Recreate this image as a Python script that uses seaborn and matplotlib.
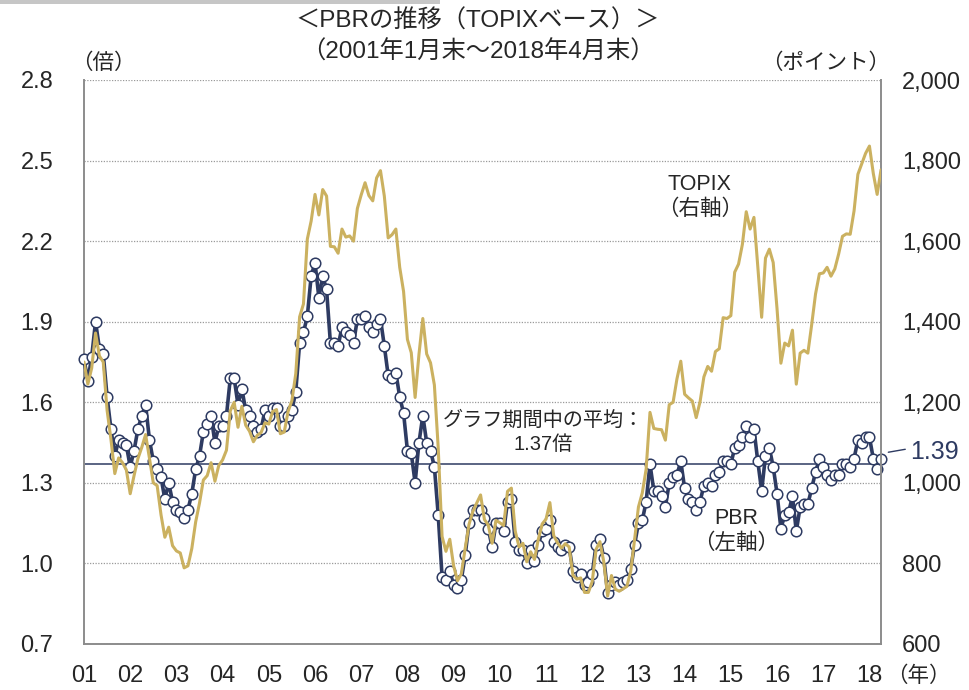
import numpy as np
import pandas as pd
import matplotlib
matplotlib.use("Agg")
import matplotlib.pyplot as plt
from matplotlib.ticker import FormatStrFormatter, FuncFormatter
import seaborn as sns

# PBR (倍), month-end, 2001/01 - 2018/04
pbr_2001 = [1.76, 1.68, 1.77, 1.90, 1.80, 1.78, 1.62, 1.50, 1.40, 1.46, 1.45, 1.44]
pbr_2002 = [1.36, 1.42, 1.50, 1.55, 1.59, 1.46, 1.38, 1.35, 1.32, 1.24, 1.30, 1.23]
pbr_2003 = [1.20, 1.19, 1.17, 1.20, 1.26, 1.35, 1.40, 1.49, 1.52, 1.55, 1.45, 1.51]
pbr_2004 = [1.51, 1.55, 1.69, 1.69, 1.59, 1.65, 1.57, 1.55, 1.51, 1.49, 1.50, 1.57]
pbr_2005 = [1.55, 1.58, 1.58, 1.51, 1.51, 1.55, 1.57, 1.64, 1.82, 1.86, 1.92, 2.07]
pbr_2006 = [2.12, 1.99, 2.07, 2.02, 1.82, 1.82, 1.81, 1.88, 1.86, 1.85, 1.82, 1.91]
pbr_2007 = [1.91, 1.92, 1.88, 1.86, 1.89, 1.91, 1.81, 1.70, 1.69, 1.71, 1.62, 1.56]
pbr_2008 = [1.42, 1.41, 1.30, 1.45, 1.55, 1.45, 1.42, 1.36, 1.18, 0.95, 0.94, 0.97]
pbr_2009 = [0.92, 0.91, 0.94, 1.03, 1.15, 1.20, 1.20, 1.20, 1.17, 1.13, 1.06, 1.15]
pbr_2010 = [1.15, 1.12, 1.23, 1.24, 1.08, 1.05, 1.05, 1.00, 1.05, 1.01, 1.07, 1.12]
pbr_2011 = [1.13, 1.16, 1.08, 1.06, 1.05, 1.07, 1.06, 0.97, 0.95, 0.96, 0.92, 0.93]
pbr_2012 = [0.96, 1.07, 1.09, 1.02, 0.89, 0.92, 0.93, 0.92, 0.93, 0.94, 0.98, 1.07]
pbr_2013 = [1.15, 1.16, 1.23, 1.37, 1.27, 1.27, 1.25, 1.21, 1.30, 1.32, 1.33, 1.38]
pbr_2014 = [1.28, 1.24, 1.23, 1.20, 1.23, 1.29, 1.30, 1.29, 1.33, 1.34, 1.38, 1.38]
pbr_2015 = [1.37, 1.43, 1.44, 1.47, 1.51, 1.47, 1.50, 1.38, 1.27, 1.40, 1.43, 1.36]
pbr_2016 = [1.26, 1.13, 1.18, 1.19, 1.25, 1.12, 1.21, 1.22, 1.22, 1.28, 1.34, 1.39]
pbr_2017 = [1.36, 1.33, 1.31, 1.33, 1.33, 1.37, 1.37, 1.36, 1.39, 1.46, 1.45, 1.47]
pbr_2018 = [1.47, 1.39, 1.35, 1.39]

# TOPIX (ポイント), month-end
topix_2001 = [1300, 1245, 1285, 1372, 1315, 1300, 1180, 1108, 1023, 1062, 1050, 1032]
topix_2002 = [973, 1018, 1060, 1088, 1120, 1061, 1000, 993, 921, 865, 890, 844]
topix_2003 = [831, 826, 789, 794, 837, 903, 950, 1007, 1018, 1050, 1004, 1043]
topix_2004 = [1057, 1081, 1179, 1200, 1138, 1190, 1143, 1128, 1102, 1118, 1125, 1149]
topix_2005 = [1146, 1177, 1182, 1122, 1126, 1177, 1204, 1271, 1412, 1444, 1605, 1650]
topix_2006 = [1716, 1665, 1728, 1712, 1587, 1586, 1570, 1630, 1610, 1613, 1600, 1681]
topix_2007 = [1715, 1745, 1713, 1700, 1757, 1775, 1712, 1608, 1616, 1630, 1535, 1475]
topix_2008 = [1356, 1323, 1212, 1319, 1408, 1320, 1298, 1243, 1087, 867, 830, 860]
topix_2009 = [794, 757, 774, 837, 897, 929, 950, 970, 909, 895, 850, 907]
topix_2010 = [901, 894, 979, 987, 880, 841, 850, 804, 829, 810, 860, 898]
topix_2011 = [910, 951, 869, 851, 838, 849, 841, 770, 761, 764, 728, 728]
topix_2012 = [755, 835, 854, 804, 719, 770, 736, 731, 737, 743, 781, 859]
topix_2013 = [940, 975, 1034, 1175, 1135, 1133, 1132, 1106, 1194, 1200, 1258, 1302]
topix_2014 = [1220, 1211, 1203, 1162, 1201, 1263, 1289, 1277, 1326, 1333, 1410, 1408]
topix_2015 = [1415, 1523, 1543, 1592, 1673, 1630, 1659, 1537, 1411, 1558, 1580, 1547]
topix_2016 = [1432, 1297, 1347, 1340, 1379, 1245, 1322, 1329, 1322, 1393, 1469, 1519]
topix_2017 = [1521, 1535, 1513, 1531, 1568, 1612, 1618, 1617, 1675, 1766, 1792, 1818]
topix_2018 = [1836, 1768, 1716, 1777]

year_labels = ["01", "02", "03", "04", "05", "06", "07", "08", "09",
               "10", "11", "12", "13", "14", "15", "16", "17", "18"]
pbr_mean = 1.37

pbr = (pbr_2001 + pbr_2002 + pbr_2003 + pbr_2004 + pbr_2005 + pbr_2006 +
       pbr_2007 + pbr_2008 + pbr_2009 + pbr_2010 + pbr_2011 + pbr_2012 +
       pbr_2013 + pbr_2014 + pbr_2015 + pbr_2016 + pbr_2017 + pbr_2018)
topix = (topix_2001 + topix_2002 + topix_2003 + topix_2004 + topix_2005 +
         topix_2006 + topix_2007 + topix_2008 + topix_2009 + topix_2010 +
         topix_2011 + topix_2012 + topix_2013 + topix_2014 + topix_2015 +
         topix_2016 + topix_2017 + topix_2018)

df = pd.DataFrame({"m": np.arange(len(pbr)), "pbr": pbr, "topix": topix})

navy = "#2e3b62"
gold = "#cbb160"
gray = "#8c8c8c"

sns.set_style("white")
plt.rcParams["font.family"] = ["Liberation Sans", "Noto Sans CJK JP"]
plt.rcParams["font.size"] = 16

fig = plt.figure(figsize=(9.7, 6.9), dpi=100)
ax = fig.add_axes([84 / 970, 46 / 690, 797 / 970, 564 / 690])

ax.axhline(pbr_mean, color=navy, lw=1.1, zorder=1)
sns.lineplot(data=df, x="m", y="pbr", ax=ax, color=navy, lw=2.6,
             marker="o", markersize=7.6, markerfacecolor="white",
             markeredgecolor=navy, markeredgewidth=1.1, clip_on=False, zorder=3)

ax.set_xlim(0, len(pbr) - 1)
ax.set_ylim(0.7, 2.8)
ax.set_yticks(np.round(np.arange(0.7, 2.81, 0.3), 1))
ax.yaxis.set_major_formatter(FormatStrFormatter("%.1f"))
ax.set_xticks(np.arange(0, len(pbr), 12))
ax.set_xticklabels(year_labels)
ax.set_xlabel("")
ax.set_ylabel("")
ax.yaxis.grid(True, linestyle=(0, (1, 1.2)), color="#9a9a9a", lw=0.9)
ax.set_axisbelow(True)

ax2 = ax.twinx()
sns.lineplot(data=df, x="m", y="topix", ax=ax2, color=gold, lw=2.2, zorder=4)
ax2.set_ylim(600, 2000)
ax2.set_yticks(range(600, 2001, 200))
ax2.yaxis.set_major_formatter(FuncFormatter(lambda v, p: f"{int(v):,}"))
ax2.set_xlabel("")
ax2.set_ylabel("")

for a in (ax, ax2):
    for s in a.spines.values():
        s.set_visible(False)
ax.spines["left"].set_visible(True)
ax.spines["bottom"].set_visible(True)
ax2.spines["right"].set_visible(True)
for s in (ax.spines["left"], ax.spines["bottom"], ax2.spines["right"]):
    s.set_color(gray)
    s.set_linewidth(1.4)

ax.tick_params(axis="y", length=0, pad=22, labelsize=17)
ax2.tick_params(axis="y", length=0, pad=15, labelsize=17)
ax.tick_params(axis="x", direction="out", length=4, width=1, color=gray,
               pad=11, labelsize=17)

# text
fig.text(478 / 970, 1 - 21 / 690, "＜PBRの推移（TOPIXベース）＞",
         ha="center", va="center", fontsize=17.5)
fig.text(478 / 970, 1 - 52 / 690, "（2001年1月末～2018年4月末）",
         ha="center", va="center", fontsize=17.5)
fig.text(103 / 970, 1 - 63 / 690, "（倍）", ha="center", va="center", fontsize=15.5)
fig.text(826 / 970, 1 - 63 / 690, "（ポイント）", ha="center", va="center", fontsize=15.5)
fig.text(918 / 970, 1 - 676 / 690, "（年）", ha="center", va="center", fontsize=15.5)

fig.text(700 / 970, 1 - 197 / 690, "TOPIX\n（右軸）", ha="center", va="center",
         fontsize=15.5, linespacing=1.25)
fig.text(736 / 970, 1 - 531 / 690, "PBR\n（左軸）", ha="center", va="center",
         fontsize=15.5, linespacing=1.25)
fig.text(543 / 970, 1 - 432 / 690, f"グラフ期間中の平均：\n{pbr_mean:.2f}倍",
         ha="center", va="center", fontsize=14.5, linespacing=1.35)

# latest value callout
ax.plot([208.9, 213.3], [1.414, 1.425], color=navy, lw=1, clip_on=False)
fig.text(910 / 970, 1 - 452 / 690, f"{pbr[-1]:.2f}", color=navy,
         ha="left", va="center", fontsize=18)

# grey strip at top left
fig.add_artist(plt.Rectangle((0, 1 - 4 / 690), 440 / 970, 4 / 690,
                             transform=fig.transFigure, color="#c6c6c6", lw=0))

fig.savefig("out.png", dpi=100)
